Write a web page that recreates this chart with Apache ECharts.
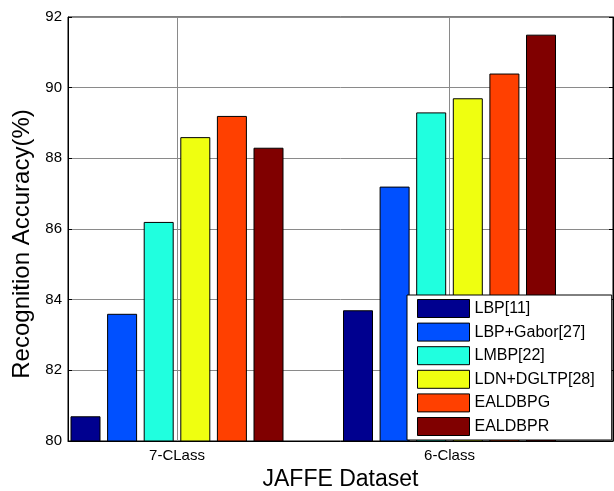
<!DOCTYPE html>
<html>
<head>
<meta charset="utf-8">
<script src="https://cdn.jsdelivr.net/npm/echarts@6/dist/echarts.min.js"></script>
<style>
  html, body { margin: 0; padding: 0; background: #fff; }
  #chart { width: 614px; height: 491px; }
</style>
</head>
<body>
<div id="chart"></div>
<script>
// data
var categories = ['7-CLass', '6-Class'];
var methods = ['LBP[11]', 'LBP+Gabor[27]', 'LMBP[22]', 'LDN+DGLTP[28]', 'EALDBPG', 'EALDBPR'];
var lbp      = [80.7, 83.7];
var lbpGabor = [83.6, 87.2];
var lmbp     = [86.2, 89.3];
var ldnDgltp = [88.6, 89.7];
var ealdbpg  = [89.2, 90.4];
var ealdbpr  = [88.3, 91.5];
var yTicks = [80, 82, 84, 86, 88, 90, 92];

var colors = ['#00008f', '#0050ff', '#20ffdf', '#efff10', '#ff4000', '#800000'];
var values = [lbp, lbpGabor, lmbp, ldnDgltp, ealdbpg, ealdbpr];

// x positions 1..n like matlab bar()
var xPos = categories.map(function(c, i) { return i + 1; });

var font = 'Arial, "Liberation Sans", sans-serif';

var series = methods.map(function(name, k) {
    return {
        name: name,
        type: 'bar',
        barWidth: 30,
        barGap: '22%',
        data: values[k].map(function(v, i) { return [xPos[i], v]; }),
        itemStyle: { color: colors[k], borderColor: '#000', borderWidth: 1 },
        z: 3
    };
});

// vertical grid lines at the category positions (own series so no bar offset)
series.push({
    name: 'xgrid',
    type: 'line',
    data: [],
    silent: true,
    z: 1,
    markLine: {
        silent: true,
        symbol: 'none',
        label: { show: false },
        lineStyle: { color: '#8a8a8a', type: 'solid', width: 1 },
        data: xPos.map(function(x) { return { xAxis: x }; })
    }
});

var chart = echarts.init(document.getElementById('chart'));
var option = {
    animation: false,
    color: colors,
    grid: {
        left: 68, right: 1, top: 17, bottom: 50,
        outerBoundsMode: 'none',
        containLabel: false,
        show: true, borderColor: '#000', borderWidth: 1
    },
    legend: {
        orient: 'vertical',
        left: 407,
        top: 295,
        itemWidth: 52,
        itemHeight: 18,
        itemGap: 4.6,
        padding: [4, 17, 4, 10],
        backgroundColor: '#fff',
        borderColor: '#000',
        borderWidth: 1,
        icon: 'rect',
        itemStyle: { borderColor: '#000', borderWidth: 1 },
        textStyle: { fontFamily: font, fontSize: 16, lineHeight: 18, color: '#000' },
        data: methods,
        z: 10
    },
    xAxis: {
        type: 'value',
        min: xPos[0] - 0.4,
        max: xPos[xPos.length - 1] + 0.6,
        name: 'JAFFE Dataset',
        nameLocation: 'middle',
        nameGap: 26,
        nameTextStyle: { fontFamily: font, fontSize: 23, color: '#000' },
        axisLine: { show: true, lineStyle: { color: '#000', width: 1 } },
        axisTick: { show: true, inside: true, length: 4, customValues: xPos, lineStyle: { color: '#000' } },
        axisLabel: {
            customValues: xPos,
            fontFamily: font, fontSize: 15, color: '#000', margin: 7,
            formatter: function(v) { return categories[Math.round(v) - 1] || ''; }
        },
        splitLine: { show: false }
    },
    yAxis: [{
        type: 'value',
        min: yTicks[0],
        max: yTicks[yTicks.length - 1],
        interval: 2,
        name: 'Recognition Accuracy(%)',
        nameLocation: 'middle',
        nameGap: 28,
        nameTextStyle: { fontFamily: font, fontSize: 24, color: '#000', padding: [0, 30, 0, 0] },
        axisLine: { show: true, lineStyle: { color: '#000', width: 1 } },
        axisTick: { show: true, inside: true, length: 4, lineStyle: { color: '#000' } },
        axisLabel: { fontFamily: font, fontSize: 15, color: '#000', margin: 6 },
        splitLine: { show: true, lineStyle: { color: '#8a8a8a', width: 1 } }
    }, {
        type: 'value',
        position: 'right',
        min: yTicks[0],
        max: yTicks[yTicks.length - 1],
        interval: 2,
        axisLine: { show: true, lineStyle: { color: '#000', width: 1 } },
        axisTick: { show: true, inside: true, length: 4, lineStyle: { color: '#000' } },
        axisLabel: { show: false },
        splitLine: { show: false }
    }],
    series: series
};
chart.setOption(option);
</script>
</body>
</html>
